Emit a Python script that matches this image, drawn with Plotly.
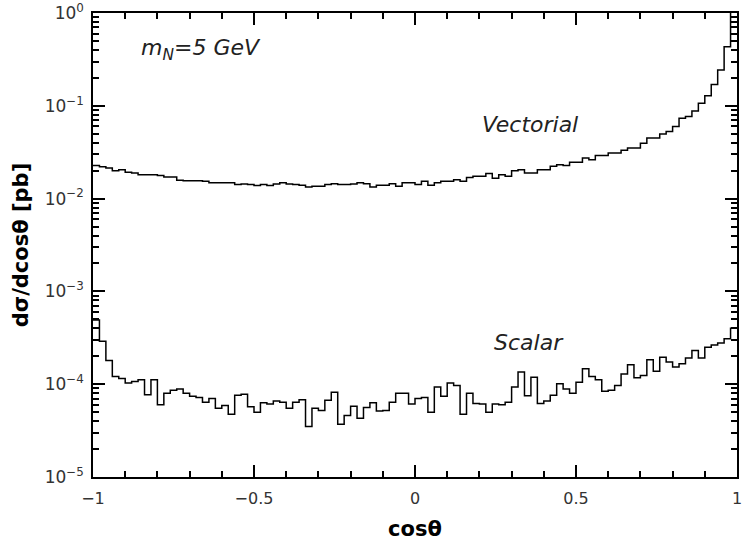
import numpy as np
import plotly.graph_objects as go

# bin lower edges of cos(theta), 100 bins of width 0.02
cos_low = [round(-1 + 0.02 * i, 2) for i in range(100)]
cos_high_end = 1.0

vectorial = [
    0.0228, 0.0220, 0.0214, 0.0200, 0.0205, 0.0192, 0.0189, 0.0181, 0.0181, 0.0181,
    0.0177, 0.0171, 0.0171, 0.0158, 0.0156, 0.0156, 0.0156, 0.0154, 0.0148, 0.0148,
    0.0148, 0.0148, 0.0142, 0.0144, 0.0142, 0.0138, 0.0142, 0.0138, 0.0144, 0.0148,
    0.0144, 0.0142, 0.0139, 0.0133, 0.0136, 0.0136, 0.0142, 0.0145, 0.0142, 0.0142,
    0.0144, 0.0148, 0.0145, 0.0133, 0.0139, 0.0139, 0.0145, 0.0136, 0.0148, 0.0148,
    0.0142, 0.0154, 0.0139, 0.0148, 0.0154, 0.0154, 0.0160, 0.0154, 0.0169, 0.0174,
    0.0174, 0.0186, 0.0166, 0.0181, 0.0174, 0.0200, 0.0205, 0.0189, 0.0189, 0.0205,
    0.0205, 0.0223, 0.0232, 0.0228, 0.0246, 0.0246, 0.0274, 0.0263, 0.0292, 0.0292,
    0.0310, 0.0310, 0.0331, 0.0350, 0.0350, 0.0396, 0.0449, 0.0449, 0.0496, 0.0529,
    0.0598, 0.0735, 0.0766, 0.0881, 0.1063, 0.1286, 0.170, 0.243, 0.432, 1.5,
]

scalar = [
    4.92e-4, 2.90e-4, 1.80e-4, 1.21e-4, 1.15e-4, 1.03e-4, 1.07e-4, 1.12e-4, 7.7e-5, 1.12e-4,
    6.0e-5, 8.0e-5, 8.6e-5, 8.9e-5, 8.0e-5, 7.4e-5, 7.2e-5, 6.4e-5, 7.0e-5, 5.5e-5,
    5.9e-5, 4.75e-5, 7.6e-5, 7.8e-5, 5.7e-5, 5.0e-5, 6.3e-5, 6.1e-5, 6.6e-5, 6.4e-5,
    5.5e-5, 6.4e-5, 6.8e-5, 3.5e-5, 5.5e-5, 5.2e-5, 6.7e-5, 8.2e-5, 3.7e-5, 4.6e-5,
    5.8e-5, 4.3e-5, 5.6e-5, 6.3e-5, 5.15e-5, 5.2e-5, 6.4e-5, 8.0e-5, 8.0e-5, 6.1e-5,
    7.0e-5, 7.2e-5, 5.0e-5, 9.3e-5, 7.4e-5, 1.03e-4, 9.7e-5, 4.75e-5, 8.0e-5, 6.2e-5,
    6.1e-5, 5.0e-5, 6.1e-5, 6.0e-5, 6.4e-5, 9.3e-5, 1.35e-4, 7.5e-5, 1.19e-4, 6.2e-5,
    6.6e-5, 7.6e-5, 1.01e-4, 8.9e-5, 8.0e-5, 1.05e-4, 1.47e-4, 1.21e-4, 1.12e-4, 8.4e-5,
    8.6e-5, 9.7e-5, 1.29e-4, 1.62e-4, 1.17e-4, 1.24e-4, 1.83e-4, 1.38e-4, 1.95e-4, 1.73e-4,
    1.53e-4, 1.66e-4, 1.91e-4, 2.31e-4, 1.91e-4, 2.50e-4, 2.65e-4, 2.78e-4, 3.08e-4, 4.00e-4,
]

x_tickvals = [-1, -0.5, 0, 0.5, 1]
x_ticktext = ["\u22121", "\u22120.5", "0", "0.5", "1"]
x_minor = [-0.9, -0.8, -0.7, -0.6, -0.4, -0.3, -0.2, -0.1,
           0.1, 0.2, 0.3, 0.4, 0.6, 0.7, 0.8, 0.9]
y_tickvals = [1e-5, 1e-4, 1e-3, 1e-2, 1e-1, 1e0]
y_ticktext = ["10<sup>\u22125</sup>", "10<sup>\u22124</sup>", "10<sup>\u22123</sup>",
              "10<sup>\u22122</sup>", "10<sup>\u22121</sup>", "10<sup>0</sup>"]
y_minor = [m * 10.0 ** e for e in range(-5, 0) for m in range(2, 10)]

FONT = "DejaVu Sans"

x_steps = cos_low + [cos_high_end]

fig = go.Figure()
for vals in (vectorial, scalar):
    fig.add_trace(go.Scatter(
        x=x_steps, y=vals + [vals[-1]], mode="lines", line_shape="hv",
        line=dict(color="black", width=1.5), showlegend=False, hoverinfo="skip",
    ))

axis_common = dict(
    showline=True, linecolor="black", linewidth=1.5, mirror="ticks",
    ticks="inside", ticklen=12, tickwidth=1.5, tickcolor="black",
    showgrid=False, zeroline=False, ticklabeloverflow="allow",
)

fig.update_xaxes(
    **axis_common, range=[-1, 1], tickmode="array", tickvals=x_tickvals, ticktext=x_ticktext,
    tickfont=dict(family=FONT, size=16, color="#333333"),
    minor=dict(ticks="inside", ticklen=6, tickwidth=1.5, tickcolor="black",
               tickmode="array", tickvals=x_minor, showgrid=False),
    title=dict(text="<b>cos\u03b8</b>", font=dict(family=FONT, size=21, color="black"), standoff=14),
    ticklabelstandoff=6,
)
fig.update_yaxes(
    **axis_common, type="log", range=[-5, 0], tickmode="array", tickvals=y_tickvals, ticktext=y_ticktext,
    tickfont=dict(family=FONT, size=17, color="#333333"),
    minor=dict(ticks="inside", ticklen=6, tickwidth=1.5, tickcolor="black",
               tickmode="array", tickvals=y_minor, showgrid=False),
    title=dict(text="<b>d\u03c3/dcos\u03b8 [pb]</b>", font=dict(family=FONT, size=21, color="black"), standoff=10),
    ticklabelstandoff=4,
)

ann_font = dict(family=FONT, size=22, color="#222222")
fig.add_annotation(x=-0.858, y=np.log10(0.40), xref="x", yref="y", xanchor="left", yanchor="middle",
                   text="<i>m<sub>N</sub>=5 GeV</i>", showarrow=False, font=ann_font)
fig.add_annotation(x=0.358, y=np.log10(0.063), xref="x", yref="y", xanchor="center", yanchor="middle",
                   text="<i>Vectorial</i>", showarrow=False, font=ann_font)
fig.add_annotation(x=0.355, y=np.log10(2.8e-4), xref="x", yref="y", xanchor="center", yanchor="middle",
                   text="<i>Scalar</i>", showarrow=False, font=ann_font)

fig.update_layout(
    width=743, height=547,
    margin=dict(l=93, r=1, t=11, b=70),
    paper_bgcolor="white", plot_bgcolor="white",
    font=dict(family=FONT),
)

fig.write_html("out.html")
